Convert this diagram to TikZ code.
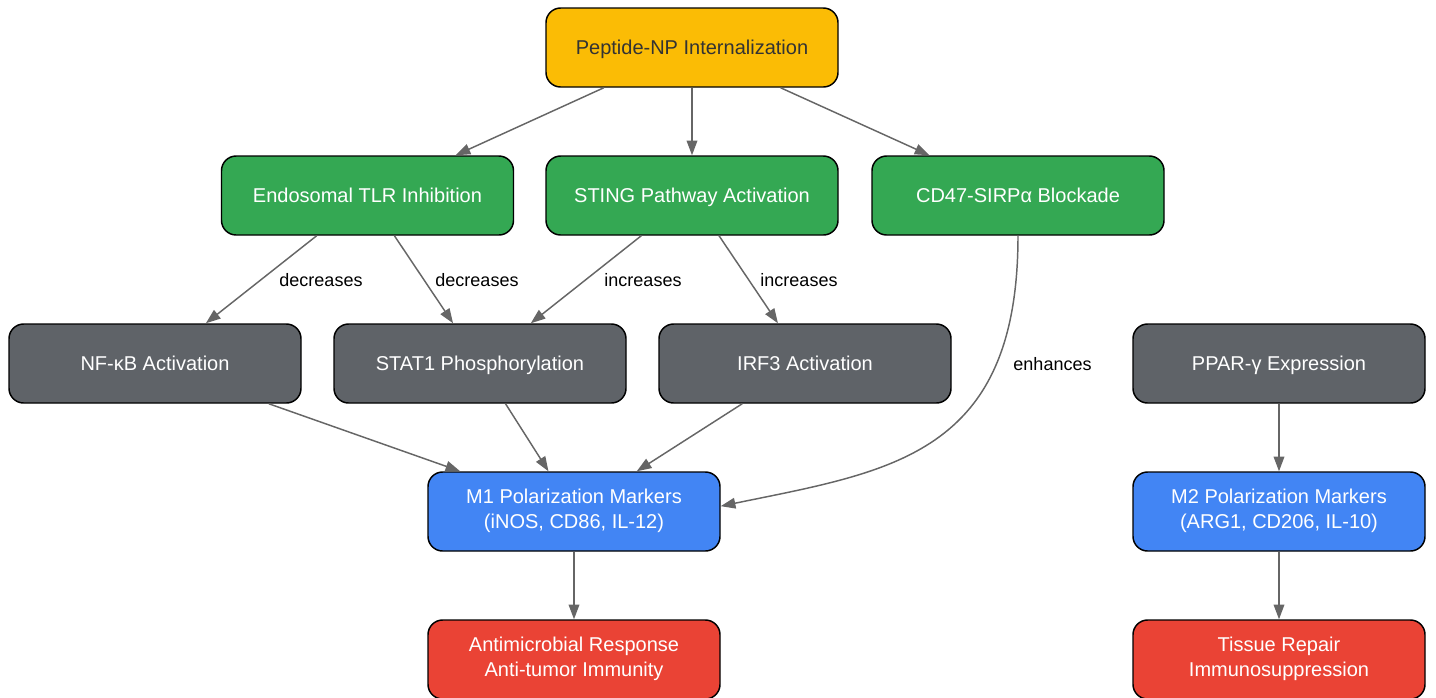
\documentclass[tikz,border=0pt]{standalone}
\usepackage{fontspec}
\setmainfont{Liberation Sans}
\usetikzlibrary{arrows.meta}
\definecolor{uptake}{HTML}{FBBC05}
\definecolor{route}{HTML}{34A853}
\definecolor{signal}{HTML}{5F6368}
\definecolor{marker}{HTML}{4285F4}
\definecolor{outcome}{HTML}{EA4335}
\definecolor{linkgray}{HTML}{666666}
\newcommand\boxstrut{\rule[-4pt]{0pt}{18.75pt}}

\begin{document}
\begin{tikzpicture}[x=0.75pt,y=-0.75pt,
  box/.style={draw=black,line width=1.1pt,rounded corners=11pt,minimum width=219pt,minimum height=59.25pt,inner sep=0pt,text=white,align=center,font=\fontsize{15}{18.75}\selectfont,execute at begin node=\boxstrut,execute at end node=\boxstrut},
  lbl/.style={inner sep=0pt,font=\fontsize{13.5}{16}\selectfont},
  link/.style={draw=linkgray,line width=1.1pt,-{Triangle[length=11pt,width=8pt]}}]
\useasboundingbox (0,0) rectangle (1436,697);
\node[box,fill=uptake,text=black!80] (pep) at (692,47.5) {Peptide-NP Internalization};
\node[box,fill=route] (tlr) at (367.5,195.5) {Endosomal TLR Inhibition};
\node[box,fill=route] (sting) at (692,195.5) {STING Pathway Activation};
\node[box,fill=route] (cd47) at (1018,195.5) {CD47-SIRPα Blockade};
\node[box,fill=signal] (nfkb) at (155,363.5) {NF-κB Activation};
\node[box,fill=signal] (stat1) at (480,363.5) {STAT1 Phosphorylation};
\node[box,fill=signal] (irf3) at (805,363.5) {IRF3 Activation};
\node[box,fill=signal] (ppar) at (1279,363.5) {PPAR-γ Expression};
\node[box,fill=marker] (m1) at (574,511.5) {M1 Polarization Markers\\(iNOS, CD86, IL-12)};
\node[box,fill=marker] (m2) at (1279,511.5) {M2 Polarization Markers\\(ARG1, CD206, IL-10)};
\node[box,fill=outcome] (anti) at (574,659.5) {Antimicrobial Response\\Anti-tumor Immunity};
\node[box,fill=outcome] (tissue) at (1279,659.5) {Tissue Repair\\Immunosuppression};
\foreach \a/\b in {pep/tlr,pep/sting,pep/cd47,tlr/nfkb,tlr/stat1,sting/stat1,sting/irf3,nfkb/m1,stat1/m1,irf3/m1,m1/anti,ppar/m2,m2/tissue} \draw[link] (\a) -- (\b);
\draw[link] (cd47.south) .. controls +(0,220) and +(170,-35) .. ([yshift=4pt]m1.east);
\node[lbl] (dec1) at (321,280) {decreases};
\node[lbl] (dec2) at (477,280) {decreases};
\node[lbl] (inc1) at (643,280) {increases};
\node[lbl] (inc2) at (799,280) {increases};
\node[lbl] (enh) at (1052.5,364) {enhances};
\end{tikzpicture}
\end{document}
